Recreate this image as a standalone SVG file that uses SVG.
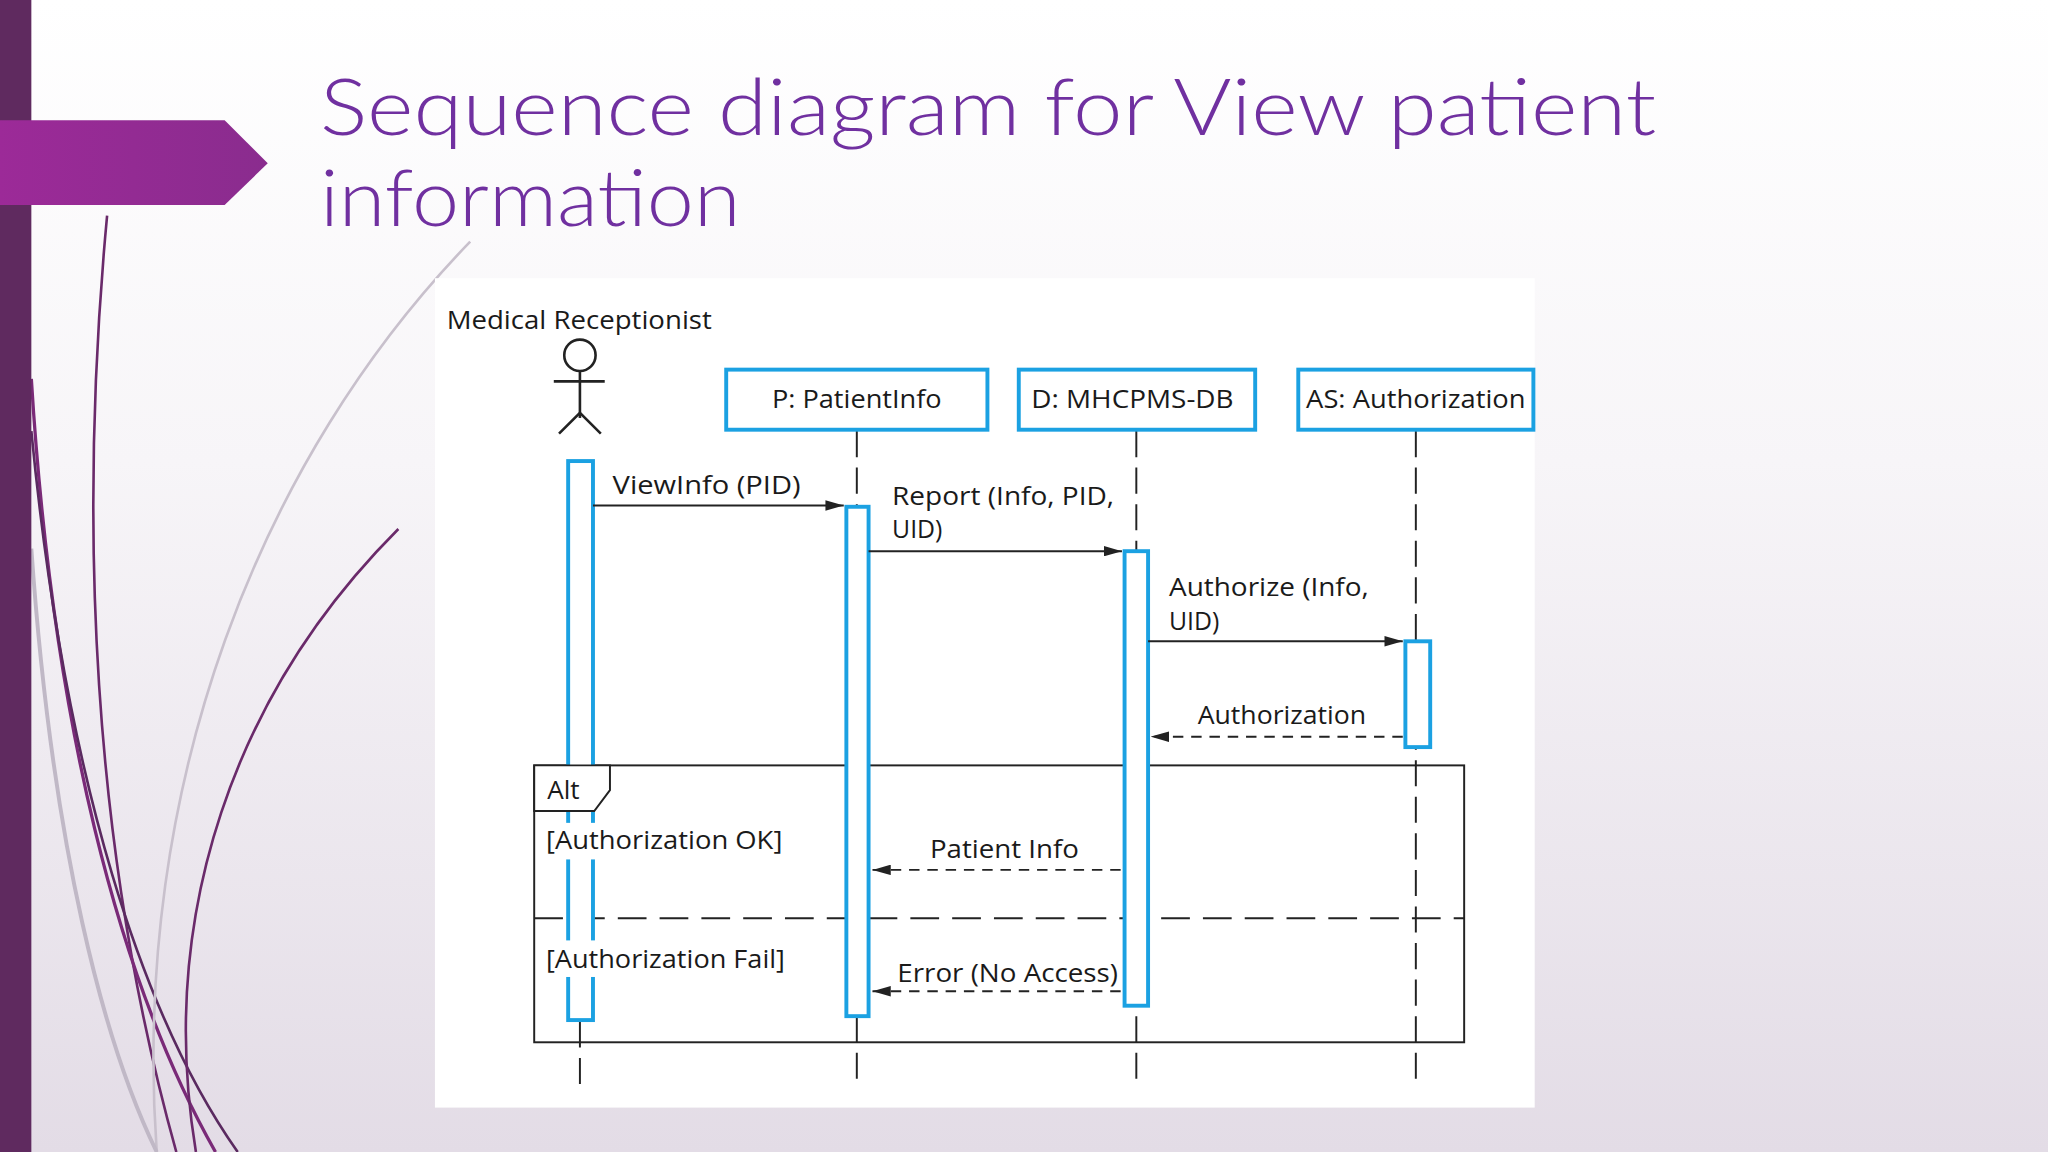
<svg xmlns="http://www.w3.org/2000/svg" width="2048" height="1152" viewBox="0 0 2048 1152">
<defs>
<linearGradient id="bg" x1="0" y1="0" x2="0" y2="1"><stop offset="0" stop-color="#ffffff"/><stop offset="0.4" stop-color="#f7f5f8"/><stop offset="1" stop-color="#e3dce6"/></linearGradient>
<linearGradient id="tab" x1="0" y1="0" x2="1" y2="0"><stop offset="0" stop-color="#9c2a98"/><stop offset="1" stop-color="#8a2c8e"/></linearGradient>
<marker id="solid" markerWidth="14" markerHeight="8" refX="14" refY="4" orient="auto" markerUnits="userSpaceOnUse"><path d="M0,0 L14,4 L0,8 Z" fill="#222"/></marker>
<marker id="open" markerWidth="14" markerHeight="8" refX="14" refY="4" orient="auto" markerUnits="userSpaceOnUse"><path d="M0,0 L14,4 L0,8 Z" fill="#222"/></marker>
<style>
.t{font-family:"Open Sans","Liberation Sans",sans-serif;fill:#1a1a1a;font-size:20px}
.s{font-size:19px}
.obj{fill:#fff;stroke:#1ba1e2;stroke-width:3}
.act{fill:#fff;stroke:#1ba1e2;stroke-width:3}
.life{stroke:#222;stroke-width:1.5;stroke-dasharray:20 8;fill:none}
.msg{stroke:#222;stroke-width:1.5;fill:none;marker-end:url(#solid)}
.ret{stroke:#222;stroke-width:1.5;fill:none;stroke-dasharray:8 6;marker-end:url(#open)}
</style>
</defs>
<rect width="2048" height="1152" fill="url(#bg)"/>
<g transform="scale(1.30612)">
<g id="decor" fill="none">
<path d="M82,165 C60,400 70,650 135,882" stroke="#6a2a6a" stroke-width="2"/>
<path d="M24,290 C40,550 90,750 165,882" stroke="#7a2a78" stroke-width="2.5"/>
<path d="M24,330 C50,600 110,780 182,882" stroke="#5a2a60" stroke-width="2"/>
<path d="M305,405 C180,530 120,700 150,882" stroke="#6a2a6a" stroke-width="2"/>
<path d="M360,185 C200,350 100,600 120,882" stroke="#c8c0cc" stroke-width="2"/>
<path d="M24,420 C40,650 80,800 120,882" stroke="#c0b8c6" stroke-width="3"/>
</g>
<rect x="0" y="0" width="24" height="882" fill="#5f2a5f"/>
<polygon points="0,92 172,92 205,125 172,157 0,157" fill="url(#tab)"/>
<g id="title" font-family="Lato,'Open Sans',sans-serif" font-weight="300" font-size="60" fill="#7030a0">
<text x="245" y="103" textLength="1023" lengthAdjust="spacingAndGlyphs">Sequence diagram for View patient</text>
<text x="245" y="173" textLength="322" lengthAdjust="spacingAndGlyphs">information</text>
</g>
<rect x="333" y="213" width="842" height="635" fill="#fff"/>

<g id="lifelines">
<line class="life" x1="444" y1="782" x2="444" y2="833"/>
<line class="life" x1="656" y1="330" x2="656" y2="833"/>
<line class="life" x1="870" y1="330" x2="870" y2="833"/>
<line class="life" x1="1084" y1="330" x2="1084" y2="833"/>
</g>

<g id="actor">
<text class="t" x="342" y="252" textLength="203" lengthAdjust="spacingAndGlyphs">Medical Receptionist</text>
<g stroke="#222" stroke-width="2" fill="none">
<circle cx="444" cy="272" r="12"/>
<line x1="444" y1="284" x2="444" y2="320"/>
<line x1="424" y1="292" x2="463" y2="292"/>
<path d="M428,332 L444,316 L460,332"/>
</g>
</g>
<g id="P"><rect class="obj" x="556" y="283" width="200" height="46"/><text class="t" x="656" y="312" text-anchor="middle" textLength="130" lengthAdjust="spacingAndGlyphs">P: PatientInfo</text></g>
<g id="D"><rect class="obj" x="780" y="283" width="181" height="46"/><text class="t" x="867" y="312" text-anchor="middle" textLength="155" lengthAdjust="spacingAndGlyphs">D: MHCPMS-DB</text></g>
<g id="AS"><rect class="obj" x="994" y="283" width="180" height="46"/><text class="t" x="1084" y="312" text-anchor="middle" textLength="168" lengthAdjust="spacingAndGlyphs">AS: Authorization</text></g>

<g id="frame">
<rect x="409" y="586" width="712" height="212" fill="none" stroke="#222" stroke-width="1.5"/>
<line x1="409" y1="703" x2="1121" y2="703" stroke="#222" stroke-width="1.5" stroke-dasharray="22 10"/>
</g>

<g id="activations">
<rect class="act" x="435" y="353" width="19" height="428"/>
<rect class="act" x="648" y="388" width="17" height="390"/>
<rect class="act" x="861" y="422" width="18" height="348"/>
<rect class="act" x="1076" y="491" width="19" height="81"/>
</g>

<g id="alt">
<polygon points="409,586 467,586 467,605 455,621 409,621" fill="#fff" stroke="#222" stroke-width="1.5"/>
<text class="t" x="419" y="612">Alt</text>
<rect x="416" y="630" width="186" height="28" fill="#fff"/>
<text class="t" x="418" y="650" textLength="181" lengthAdjust="spacingAndGlyphs">[Authorization OK]</text>
<rect x="416" y="720" width="188" height="28" fill="#fff"/>
<text class="t" x="418" y="741" textLength="183" lengthAdjust="spacingAndGlyphs">[Authorization Fail]</text>
</g>

<g id="connectors">
<line class="msg" x1="454" y1="387" x2="646" y2="387"/>
<line class="msg" x1="665" y1="422" x2="859" y2="422"/>
<line class="msg" x1="879" y1="491" x2="1074" y2="491"/>
<line class="ret" x1="1074" y1="564" x2="881" y2="564"/>
<line class="ret" x1="858" y1="666" x2="668" y2="666"/>
<line class="ret" x1="858" y1="759" x2="668" y2="759"/>
</g>
<g id="labels">
<text class="t" x="469" y="378" textLength="144" lengthAdjust="spacingAndGlyphs">ViewInfo (PID)</text>
<text class="t s" x="683" y="387" textLength="170" lengthAdjust="spacingAndGlyphs">Report (Info, PID,</text>
<text class="t s" x="683" y="412">UID)</text>
<text class="t s" x="895" y="456" textLength="153" lengthAdjust="spacingAndGlyphs">Authorize (Info,</text>
<text class="t s" x="895" y="482">UID)</text>
<text class="t" x="917" y="554" textLength="129" lengthAdjust="spacingAndGlyphs">Authorization</text>
<text class="t" x="712" y="657" textLength="114" lengthAdjust="spacingAndGlyphs">Patient Info</text>
<text class="t" x="687" y="752" textLength="169" lengthAdjust="spacingAndGlyphs">Error (No Access)</text>
</g>
</g>
</svg>
